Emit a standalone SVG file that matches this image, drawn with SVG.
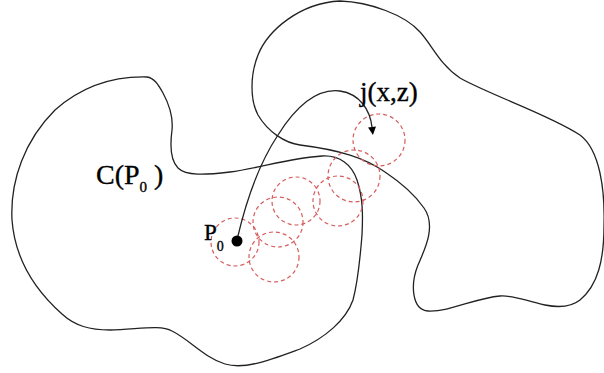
<svg xmlns="http://www.w3.org/2000/svg" width="604" height="373" viewBox="0 0 604 373">
<style>
.blob{fill:none;stroke:#222;stroke-width:1.3}
.ring{fill:none;stroke:#d65c5c;stroke-width:1.2;stroke-dasharray:4 3}
.lbl{font-family:"Liberation Serif","Times New Roman",serif;fill:#000;stroke:#000;stroke-width:0.35}
</style>
<defs>
<marker id="ah" viewBox="0 0 10 10" refX="0" refY="5" markerWidth="9" markerHeight="8" markerUnits="userSpaceOnUse" orient="auto">
<path d="M0,0 L10,5 L0,10 z" fill="#000"/>
</marker>
</defs>
<g id="region-left">
<path class="blob" d="M147,77 C154,78 158,84 163,93 C170,106 173,120 172,130 C170,145 170,160 178,168 C186,176 205,175 230,172 C260,168 290,158 322,156 C340,155 352,165 357,180 C363,198 363,215 362,235 C360,260 357,285 353,300 C346,320 325,338 300,349 C270,360 245,370 225,364 C205,358 190,340 172,331 C160,324 135,330 110,330 C90,330 75,326 62,314 C35,290 15,260 12,220 C10,180 25,140 55,110 C80,88 110,76 147,77 Z"/>
</g>
<g id="region-right">
<path class="blob" d="M340,1 C370,2 405,15 420,32 C432,45 440,65 460,78 C490,95 550,115 580,135 C600,150 605,190 604,225 C604,260 598,285 580,300 C570,308 555,307 545,305 C525,301 515,295 500,296 C475,298 450,312 428,311 C412,310 410,285 418,265 C426,247 436,225 424,208 C415,195 400,182 385,172 C365,158 340,150 300,145 C285,143 268,132 258,115 C250,100 250,75 258,55 C268,30 300,3 340,1 Z"/>
</g>
<g id="balls">
<circle class="ring" cx="235" cy="242" r="24"/>
<circle class="ring" cx="274" cy="257" r="25"/>
<circle class="ring" cx="278" cy="222" r="25"/>
<circle class="ring" cx="296" cy="201" r="24"/>
<circle class="ring" cx="338" cy="201" r="25"/>
<circle class="ring" cx="354" cy="176" r="26"/>
<circle class="ring" cx="379" cy="140" r="26"/>
</g>
<g id="connectors">
<path d="M237,240 C245,205 258,165 278,135 C295,108 315,88 340,91 C360,94 370,110 372,127" fill="none" stroke="#222" stroke-width="1.3" marker-end="url(#ah)"/>
</g>
<g id="p0">
<circle cx="237" cy="241" r="5.5" fill="#000"/>
<text class="lbl" x="204" y="240" font-size="23">P<tspan font-size="14" dy="11">0</tspan></text>
</g>
<g id="label-c">
<text class="lbl" x="96" y="184" font-size="28">C(P<tspan font-size="15" dy="8">0</tspan><tspan dy="-8"> )</tspan></text>
</g>
<g id="label-j">
<text class="lbl" x="360" y="101" font-size="27">j(x,z)</text>
</g>
</svg>
